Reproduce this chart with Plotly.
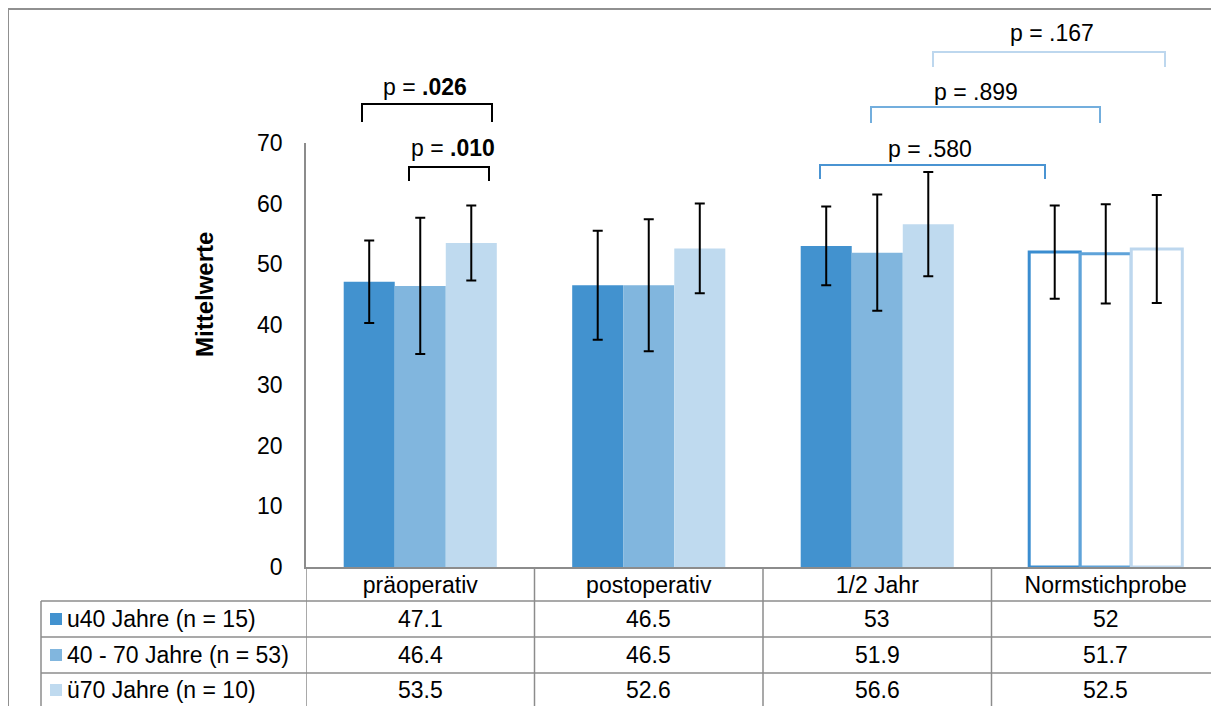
import plotly.graph_objects as go

# ---------------- data ----------------
categories = ["präoperativ", "postoperativ", "1/2 Jahr", "Normstichprobe"]
series_names = ["u40 Jahre (n = 15)", "40 - 70 Jahre (n = 53)", "ü70 Jahre (n = 10)"]
u40_means = [47.1, 46.5, 53, 52]
mid_means = [46.4, 46.5, 51.9, 51.7]
o70_means = [53.5, 52.6, 56.6, 52.5]
u40_sd = [6.8, 9.0, 6.5, 7.7]
mid_sd = [11.25, 10.9, 9.6, 8.2]
o70_sd = [6.2, 7.4, 8.6, 8.9]
y_ticks = [0, 10, 20, 30, 40, 50, 60, 70]
p_texts = ["p = <b>.026</b>", "p = <b>.010</b>", "p = .580", "p = .899", "p = .167"]

# ---------------- styles ----------------
FONT = "Liberation Sans, Arial, sans-serif"
FS = 23
fill_colors = ["#4292CF", "#81B6DE", "#BFDAEF"]
norm_line_colors = ["#3A8DD0", "#5FA3D9", "#BDD7EE"]
GRID = "#8C8C8C"

OFF = 8  # page body margin
W, H = 1219, 706
REF_L, REF_R, REF_T, REF_B = 306, 1220, 143, 567   # plot area in page pixels
L = REF_L - OFF
T = REF_T - OFF
PW = REF_R - REF_L
PH = REF_B - REF_T
R = W - L - PW
B = H - T - PH


def px(xp):
    return (xp - REF_L) / PW


def py(yp):
    return (REF_B - yp) / PH


fig = go.Figure()
all_means = [u40_means, mid_means, o70_means]
all_sd = [u40_sd, mid_sd, o70_sd]
for i in range(3):
    n = len(categories)
    colors = [fill_colors[i]] * (n - 1) + ["white"]
    lcolors = [fill_colors[i]] * (n - 1) + [norm_line_colors[i]]
    lwidths = [0] * (n - 1) + [3]
    fig.add_trace(go.Bar(
        x=categories, y=all_means[i], name=series_names[i],
        marker=dict(color=colors, line=dict(color=lcolors, width=lwidths)),
        error_y=dict(type="data", array=all_sd[i], color="black", thickness=2, width=5),
    ))

shapes = []
annotations = []

# outer frame
shapes.append(dict(type="path", xref="paper", yref="paper",
                   path=f"M {px(8)} {py(730)} L {px(8)} {py(9)} L {px(1240)} {py(9)}",
                   line=dict(color="#909090", width=2)))

# data table lines
row_lines = [601, 637, 673]
for yl in row_lines:
    shapes.append(dict(type="line", xref="paper", yref="paper",
                       x0=px(41), x1=px(1240), y0=py(yl), y1=py(yl),
                       line=dict(color=GRID, width=1.5)))
shapes.append(dict(type="line", xref="paper", yref="paper",
                   x0=px(41), x1=px(41), y0=py(601), y1=py(730),
                   line=dict(color=GRID, width=1.5)))
for k in range(len(categories)):
    shapes.append(dict(type="line", xref="x", yref="paper",
                       x0=k - 0.5, x1=k - 0.5, y0=0, y1=py(730),
                       line=dict(color=GRID, width=1.5)))

row_centers = [619, 655, 690]
for i in range(3):
    yc = row_centers[i]
    shapes.append(dict(type="rect", xref="paper", yref="paper",
                       x0=px(50), x1=px(62), y0=py(yc + 6), y1=py(yc - 6),
                       fillcolor=fill_colors[i], line=dict(width=0)))
    annotations.append(dict(xref="paper", yref="paper", x=px(65), y=py(yc),
                            text=series_names[i], showarrow=False,
                            xanchor="left", yanchor="middle",
                            font=dict(family=FONT, size=FS, color="black")))
    for k, v in enumerate(all_means[i]):
        annotations.append(dict(xref="x", yref="paper", x=k, y=py(yc),
                                text=f"{v:g}", showarrow=False,
                                xanchor="center", yanchor="middle",
                                font=dict(family=FONT, size=FS, color="black")))

# significance brackets
brackets = [
    # (x0px, x1px, ytop, ybottom, color, text, textx, texty)
    (362, 492, 104, 122, "black", p_texts[0], 425, 87),
    (409, 489, 167, 181, "black", p_texts[1], 453, 148),
    (820, 1045, 165, 179, "#4A94D2", p_texts[2], 930, 149),
    (871, 1100, 107, 123, "#73AEDD", p_texts[3], 976, 92),
    (933, 1165, 52, 67, "#BDD7EE", p_texts[4], 1052, 33),
]
for x0, x1, yt, yb, col, txt, tx, ty in brackets:
    shapes.append(dict(type="path", xref="paper", yref="paper",
                       path=f"M {px(x0)} {py(yb)} L {px(x0)} {py(yt)} L {px(x1)} {py(yt)} L {px(x1)} {py(yb)}",
                       line=dict(color=col, width=2)))
    annotations.append(dict(xref="paper", yref="paper", x=px(tx), y=py(ty),
                            text=txt, showarrow=False, xanchor="center", yanchor="middle",
                            font=dict(family=FONT, size=FS, color="black")))

# y-axis title
annotations.append(dict(xref="paper", yref="paper", x=px(204), y=py(295),
                        text="<b>Mittelwerte</b>", textangle=-90, showarrow=False,
                        xanchor="center", yanchor="middle",
                        font=dict(family=FONT, size=24, color="black")))

fig.update_layout(
    width=W, height=H, autosize=False,
    margin=dict(l=L, r=R, t=T, b=B, pad=0),
    plot_bgcolor="white", paper_bgcolor="white",
    showlegend=False, barmode="group", bargap=0.33, bargroupgap=0,
    font=dict(family=FONT, size=FS, color="black"),
    shapes=shapes, annotations=annotations,
    xaxis=dict(showline=True, linecolor=GRID, linewidth=1.5, showgrid=False,
               ticks="", tickfont=dict(family=FONT, size=FS, color="black"),
               ticklabelstandoff=-3, range=[-0.5, 3.5], fixedrange=True),
    yaxis=dict(range=[0, 70], tickvals=y_ticks, showline=True, linecolor=GRID,
               linewidth=1.5, showgrid=False, zeroline=False, ticks="",
               ticklabelstandoff=17,
               tickfont=dict(family=FONT, size=FS, color="black"), fixedrange=True),
)

fig.write_html("out.html")
